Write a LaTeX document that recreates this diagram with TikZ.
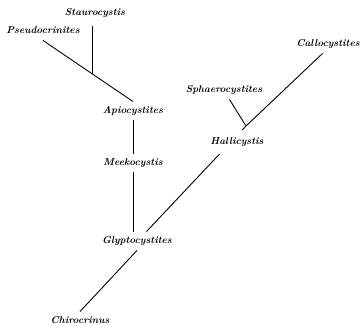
\documentclass[tikz,border=0pt]{standalone}
\usetikzlibrary{calc}
\tikzset{
  genus/.style={font=\bfseries\itshape, inner sep=0pt, outer sep=5pt,
    text height=7pt, text depth=2pt},
  onbranch/.style={genus, fill=white, inner xsep=3pt, inner ysep=8pt, outer sep=0pt}
}
\begin{document}
\begin{tikzpicture}[x=1bp,y=1bp,line width=0.9pt]
  \useasboundingbox (0,0) rectangle (360,326);
  % left group
  \node[genus] (stauro) at (95,313) {Staurocystis};
  \node[genus] (pseudo) at (43,295) {Pseudocrinites};
  \node[genus] (api) at (133,215) {Apiocystites};
  \node[genus] (meek) at (133,163) {Meekocystis};
  \node[genus] (glypto) at (137,85) {Glyptocystites};
  \node[genus] (chiro) at (80,5) {Chirocrinus};
  % right group
  \node[genus] (callo) at (328,282) {Callocystites};
  \node[genus] (sphaero) at (224,236) {Sphaerocystites};
  \coordinate (j2) at (246,200);

  \draw (pseudo.south) -- (api.north);
  \coordinate (j1) at ($(pseudo.south)!.55!(api.north)$);
  \draw[shorten >=4pt] (j1) -- (j1 |- stauro.south);
  \draw (api.south) -- (meek.north);
  \draw (meek.south) -- (meek.south |- glypto.north);
  \draw (chiro.north) -- (glypto.south);
  \draw (glypto.45) -- (j2) -- (callo.240);
  \node[onbranch] (halli) at (237,184) {Hallicystis};
  \draw (sphaero.-60) -- (j2);
\end{tikzpicture}
\end{document}
